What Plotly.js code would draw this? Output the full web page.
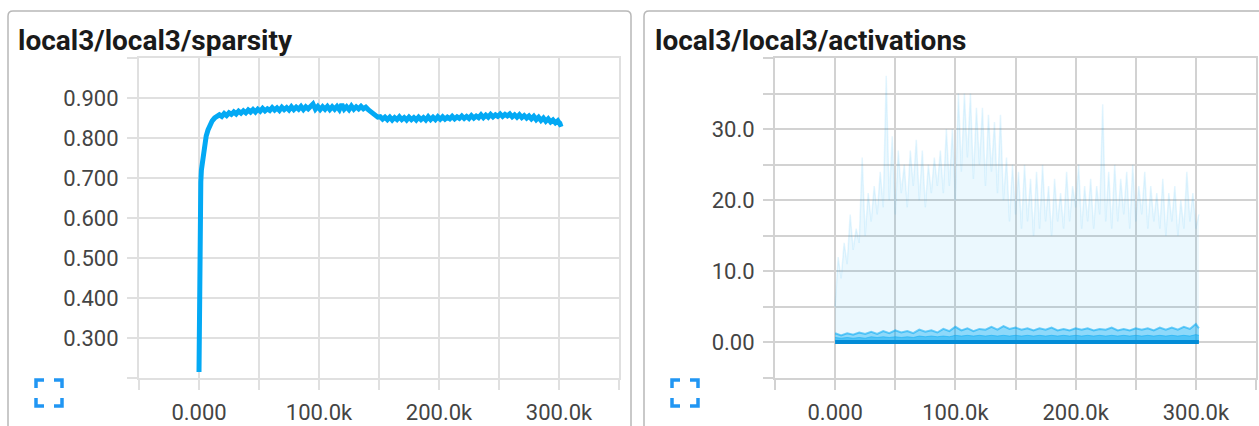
<!DOCTYPE html>
<html>
<head>
<meta charset="utf-8">
<script src="https://cdn.plot.ly/plotly-3.0.1.min.js"></script>
<style>
html,body{margin:0;padding:0;background:#fff;}
#chart{width:1259px;height:426px;}
</style>
</head>
<body>
<div id="chart"></div>
<script>
// ---------- DATA ----------
// step values are in thousands of steps
const sparsitySteps = [0,0.3,0.6,1,1.5,2,3,4,5,6,7.5,9,11,13,15,17,19,21,23,25,27,29,31,33,35,37,39,41,43,45,47,49,51,53,55,57,59,61,63,65,67,69,71,73,75,77,79,81,83,85,87,89,91,93,95,97,99,101,103,105,107,109,111,113,115,117,119,121,123,125,127,129,131,133,135,137,139,141,143,145,147,149,151,153,155,157,159,161,163,165,167,169,171,173,175,177,179,181,183,185,187,189,191,193,195,197,199,201,203,205,207,209,211,213,215,217,219,221,223,225,227,229,231,233,235,237,239,241,243,245,247,249,251,253,255,257,259,261,263,265,267,269,271,273,275,277,279,281,283,285,287,289,291,293,295,297,299,301,303];
const sparsityValues = [0.215,0.40,0.55,0.64,0.69,0.72,0.745,0.77,0.79,0.805,0.82,0.832,0.843,0.850,
  0.853,0.858,0.854,0.861,0.856,0.863,0.859,0.865,0.860,0.867,0.862,0.868,0.863,0.870,0.865,0.871,0.865,0.872,0.867,0.874,0.868,0.873,0.869,0.876,0.870,0.875,0.869,0.877,0.871,0.876,0.870,0.878,0.871,0.877,0.872,0.879,0.871,0.878,0.873,0.879,0.885,0.872,0.879,0.871,0.878,0.872,0.879,0.871,0.878,0.872,0.879,0.871,0.884,0.872,0.878,0.871,0.880,0.872,0.878,0.873,0.879,0.873,0.877,0.871,0.866,0.860,0.856,0.852,0.853,0.847,0.852,0.846,0.852,0.845,0.851,0.846,0.853,0.846,0.851,0.845,0.852,0.846,0.851,0.845,0.852,0.846,0.851,0.845,0.853,0.846,0.852,0.846,0.853,0.847,0.853,0.847,0.852,0.848,0.854,0.848,0.853,0.849,0.855,0.849,0.854,0.849,0.856,0.850,0.855,0.851,0.858,0.851,0.857,0.852,0.859,0.853,0.858,0.854,0.860,0.854,0.859,0.855,0.860,0.853,0.858,0.852,0.858,0.851,0.856,0.850,0.855,0.848,0.854,0.846,0.852,0.844,0.850,0.842,0.848,0.840,0.845,0.838,0.843,0.834,0.836];

const actSteps = [0,2.5,5,7.5,10,12.5,15,17.5,20,22.5,25,27.5,30,32.5,35,37.5,40,42.5,45,47.5,50,52.5,55,57.5,60,62.5,65,67.5,70,72.5,75,77.5,80,82.5,85,87.5,90,92.5,95,97.5,100,102.5,105,107.5,110,112.5,115,117.5,120,122.5,125,127.5,130,132.5,135,137.5,140,142.5,145,147.5,150,152.5,155,157.5,160,162.5,165,167.5,170,172.5,175,177.5,180,182.5,185,187.5,190,192.5,195,197.5,200,202.5,205,207.5,210,212.5,215,217.5,220,222.5,225,227.5,230,232.5,235,237.5,240,242.5,245,247.5,250,252.5,255,257.5,260,262.5,265,267.5,270,272.5,275,277.5,280,282.5,285,287.5,290,292.5,295,297.5,300,302.5];
const actMax = [5,12,9,14,11,18,13,16,14,26,15,21,17,22,18,24,19,37.5,20,29,18,27,21,25,19,27,22,28.5,20,27,19,25,21,26,22,27,21,30,22,30,20,35,24,35,26,35,23,33,25,33,22,32,24,31,21,32,20,26,17,25,18,24,16,25,17,23,15,24,16,25,17,22,15,23,17,21,16,24,17,22,19,25,16,22,17,23,16,22,18,33.5,17,24,16,25,17,23,18,24,16,25,17,22,18,24,16,22,17,21,16,23,15,21,17,22,15,20,16,24,17,21,16,18];

const bandSteps = [0,5,10,15,20,25,30,35,40,45,50,55,60,65,70,75,80,85,90,95,100,105,110,115,120,125,130,135,140,145,150,155,160,165,170,175,180,185,190,195,200,205,210,215,220,225,230,235,240,245,250,255,260,265,270,275,280,285,290,295,300,302.5];
const actUpper = [1.3,1.0,1.3,1.1,1.4,1.2,1.5,1.2,1.6,1.3,1.7,1.4,1.6,1.3,1.8,1.5,1.7,1.4,1.9,1.6,2.2,1.7,2.0,1.6,1.9,1.8,2.2,1.8,2.3,1.9,2.1,1.8,2.0,1.7,2.0,1.8,2.1,1.7,1.9,1.7,2.0,1.8,2.0,1.7,1.9,1.8,2.1,1.7,1.9,1.7,2.0,1.8,2.0,1.7,2.1,1.8,2.1,1.8,2.2,1.9,2.6,2.0];
const actMid = [0.7,0.6,0.7,0.6,0.7,0.6,0.8,0.7,0.8,0.7,0.8,0.7,0.8,0.7,0.9,0.8,0.9,0.8,0.9,0.8,1.0,0.9,1.0,0.9,1.0,0.9,1.0,0.9,1.0,0.9,1.0,0.9,1.0,0.9,1.0,0.9,1.0,0.9,1.0,0.9,1.0,0.9,1.0,0.9,1.0,0.9,1.0,0.9,1.0,0.9,1.0,0.9,1.0,0.9,1.0,0.9,1.0,0.9,1.0,0.9,1.1,1.0];
const actMin = [0.05,0.05,0.05,0.05,0.05,0.05,0.05,0.05,0.05,0.05,0.05,0.05,0.05,0.05,0.05,0.05,0.05,0.05,0.05,0.05,0.05,0.05,0.05,0.05,0.05,0.05,0.05,0.05,0.05,0.05,0.05,0.05,0.05,0.05,0.05,0.05,0.05,0.05,0.05,0.05,0.05,0.05,0.05,0.05,0.05,0.05,0.05,0.05,0.05,0.05,0.05,0.05,0.05,0.05,0.05,0.05,0.05,0.05,0.05,0.05,0.05,0.05];

const xTickVals = [-50,0,50,100,150,200,250,300,350];
const xTickText = ['','0.000','','100.0k','','200.0k','','300.0k',''];
const sparsityTickVals = [0.2,0.3,0.4,0.5,0.6,0.7,0.8,0.9,1.0];
const sparsityTickText = ['','0.300','0.400','0.500','0.600','0.700','0.800','0.900',''];
const actTickVals = [-5,0,5,10,15,20,25,30,35,40];
const actTickText = ['','0.00','','10.0','','20.0','','30.0','',''];

const titles = ['local3/local3/sparsity','local3/local3/activations'];

// ---------- LAYOUT HELPERS ----------
const W = 1259, H = 426;
const px = v => v / W;
const py = v => 1 - v / H;
const BLUE = 'rgb(3,169,244)';
const FONT = 'Roboto, Arial, sans-serif';

function axisX(domain, anchor, grid) {
  return {
    domain: domain, anchor: anchor, range: [-50, 350],
    tickmode: 'array', tickvals: xTickVals, ticktext: xTickText,
    showgrid: true, gridcolor: grid, gridwidth: 2,
    ticks: 'outside', ticklen: 10, tickwidth: 2, tickcolor: grid,
    showline: true, mirror: true, linecolor: grid, linewidth: 2,
    zeroline: false, ticklabelstandoff: 4,
    tickfont: {family: FONT, size: 22, color: '#444'},
    fixedrange: true
  };
}
function axisY(range, vals, text, anchor, grid) {
  return {
    domain: [48 / H, 368 / H], anchor: anchor, range: range,
    tickmode: 'array', tickvals: vals, ticktext: text,
    showgrid: true, gridcolor: grid, gridwidth: 2,
    ticks: 'outside', ticklen: 10, tickwidth: 2, tickcolor: grid,
    showline: true, mirror: true, linecolor: grid, linewidth: 2,
    zeroline: false, ticklabelstandoff: 4,
    tickfont: {family: FONT, size: 22, color: '#444'},
    fixedrange: true
  };
}

function card(x0, x1, y0, y1, r) {
  return {
    type: 'path', xref: 'paper', yref: 'paper', layer: 'below',
    path: `M ${px(x0)} ${py(y1)} L ${px(x0)} ${py(y0 + r)} Q ${px(x0)} ${py(y0)} ${px(x0 + r)} ${py(y0)} L ${px(x1 - r)} ${py(y0)} Q ${px(x1)} ${py(y0)} ${px(x1)} ${py(y0 + r)} L ${px(x1)} ${py(y1)}`,
    line: {color: '#b8b8b8', width: 1.5}
  };
}
function icon(x0, y0, s, a) {
  const c = 'rgb(33,150,243)';
  const x1 = x0 + s, y1 = y0 + s;
  const p = [
    `M ${px(x0)} ${py(y0 + a)} L ${px(x0)} ${py(y0)} L ${px(x0 + a)} ${py(y0)}`,
    `M ${px(x1 - a)} ${py(y0)} L ${px(x1)} ${py(y0)} L ${px(x1)} ${py(y0 + a)}`,
    `M ${px(x0)} ${py(y1 - a)} L ${px(x0)} ${py(y1)} L ${px(x0 + a)} ${py(y1)}`,
    `M ${px(x1 - a)} ${py(y1)} L ${px(x1)} ${py(y1)} L ${px(x1)} ${py(y1 - a)}`
  ];
  return p.map(d => ({type: 'path', xref: 'paper', yref: 'paper', path: d, line: {color: c, width: 3.5}}));
}

const traces = [
  {x: sparsitySteps, y: sparsityValues, xaxis: 'x', yaxis: 'y', type: 'scatter', mode: 'lines',
   line: {color: BLUE, width: 5}, hoverinfo: 'skip'},
  {x: actSteps, y: actMax, xaxis: 'x2', yaxis: 'y2', type: 'scatter', mode: 'lines', fill: 'tozeroy',
   fillcolor: 'rgba(3,169,244,0.08)', line: {color: 'rgba(3,169,244,0.10)', width: 1.5}, hoverinfo: 'skip'},
  {x: bandSteps, y: actUpper, xaxis: 'x2', yaxis: 'y2', type: 'scatter', mode: 'lines', fill: 'tozeroy',
   fillcolor: 'rgba(3,169,244,0.40)', line: {color: 'rgba(3,169,244,0.55)', width: 2}, hoverinfo: 'skip'},
  {x: bandSteps, y: actMid, xaxis: 'x2', yaxis: 'y2', type: 'scatter', mode: 'lines', fill: 'tozeroy',
   fillcolor: 'rgba(3,169,244,0.45)', line: {color: 'rgba(3,169,244,0.5)', width: 1}, hoverinfo: 'skip'},
  {x: bandSteps, y: actMin, xaxis: 'x2', yaxis: 'y2', type: 'scatter', mode: 'lines',
   line: {color: 'rgb(2,140,215)', width: 4}, hoverinfo: 'skip'}
];

const layout = {
  width: W, height: H,
  margin: {l: 0, r: 0, t: 0, b: 0, pad: 0},
  paper_bgcolor: '#ffffff', plot_bgcolor: 'rgba(0,0,0,0)',
  showlegend: false,
  xaxis: axisX([139 / W, 619 / W], 'y', '#e0e0e0'),
  yaxis: axisY([0.2, 1.0], sparsityTickVals, sparsityTickText, 'x', '#e0e0e0'),
  xaxis2: axisX([775 / W, 1256 / W], 'y2', '#d2d2d2'),
  yaxis2: axisY([-5, 40], actTickVals, actTickText, 'x2', '#d2d2d2'),
  shapes: [card(8, 631, 11, 440, 5), card(644, 1275, 11, 440, 5)]
    .concat(icon(36, 380, 26, 8)).concat(icon(672, 380, 26, 8)),
  annotations: [
    {text: '<b>' + titles[0] + '</b>', xref: 'paper', yref: 'paper', x: px(16), y: py(40),
     xanchor: 'left', yanchor: 'middle', showarrow: false,
     font: {family: FONT, size: 28, color: '#1a1a1a'}},
    {text: '<b>' + titles[1] + '</b>', xref: 'paper', yref: 'paper', x: px(653), y: py(40),
     xanchor: 'left', yanchor: 'middle', showarrow: false,
     font: {family: FONT, size: 28, color: '#1a1a1a'}}
  ]
};

Plotly.newPlot('chart', traces, layout, {displayModeBar: false, staticPlot: true});
</script>
</body>
</html>
